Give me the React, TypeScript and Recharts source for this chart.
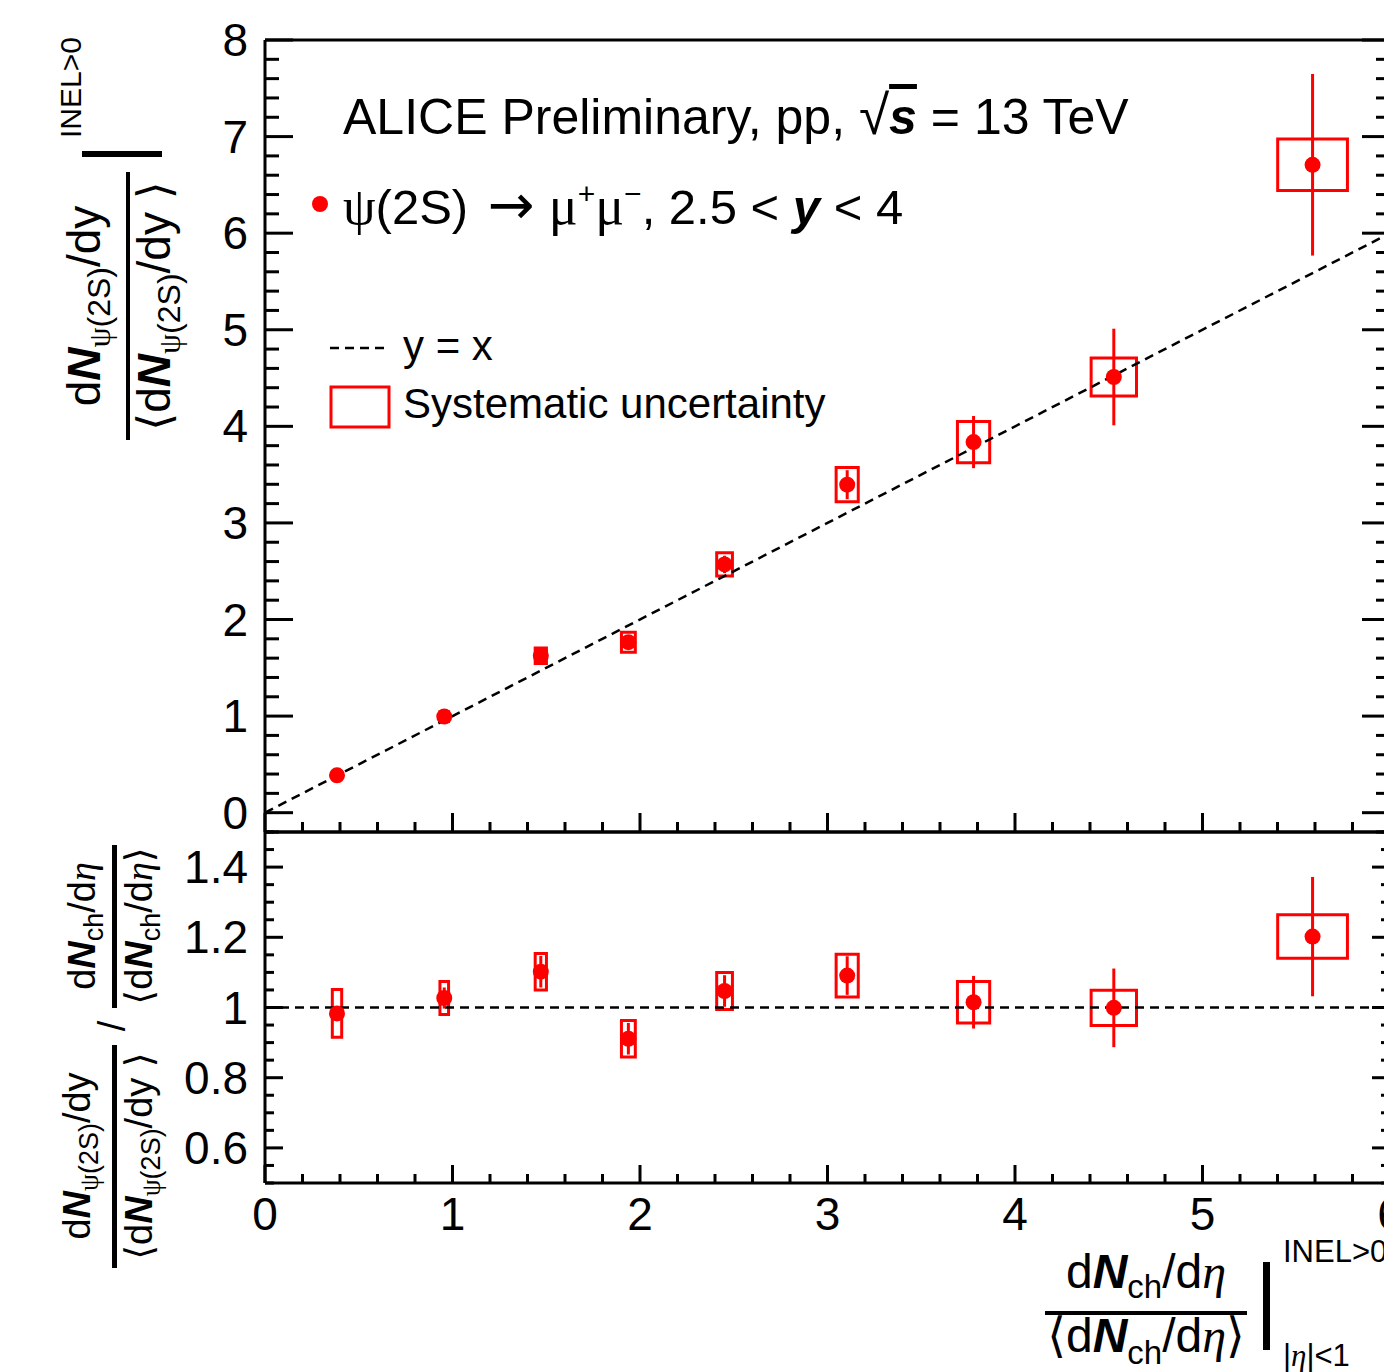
import React from 'react';
import { ComposedChart, Scatter, ErrorBar, XAxis, YAxis, ReferenceArea, ReferenceLine } from 'recharts';

// self-normalised charged-particle multiplicity, bin centres and box half-widths
const multX = [0.384, 0.956, 1.471, 1.938, 2.451, 3.105, 3.779, 4.527, 5.587];
const multSys = [0.025, 0.023, 0.03, 0.037, 0.042, 0.059, 0.086, 0.121, 0.186];

// self-normalised psi(2S) yield
const yieldVal = [0.387, 0.995, 1.624, 1.765, 2.57, 3.396, 3.837, 4.511, 6.708];
const yieldStat = [0.02, 0.03, 0.04, 0.06, 0.09, 0.15, 0.27, 0.5, 0.94];
const yieldSys = [0.03, 0.05, 0.08, 0.104, 0.12, 0.178, 0.214, 0.197, 0.267];

// ratio yield / multiplicity
const ratioVal = [0.983, 1.027, 1.102, 0.911, 1.047, 1.091, 1.015, 0.999, 1.202];
const ratioStat = [0.02, 0.03, 0.045, 0.045, 0.045, 0.055, 0.075, 0.112, 0.17];
const ratioSys = [0.068, 0.047, 0.052, 0.052, 0.053, 0.061, 0.059, 0.05, 0.062];

// axis ticks and labels
const xMajor = [0, 1, 2, 3, 4, 5, 6];
const xLabels = ['0', '1', '2', '3', '4', '5', '6'];
const yTopMajor = [0, 1, 2, 3, 4, 5, 6, 7, 8];
const yTopLabels = ['0', '1', '2', '3', '4', '5', '6', '7', '8'];
const yBotMajor = [0.6, 0.8, 1, 1.2, 1.4];
const yBotLabels = ['0.6', '0.8', '1', '1.2', '1.4'];

const steps = (from: number, to: number, step: number) => {
  const out: number[] = [];
  const n = Math.round((to - from) / step);
  for (let i = 0; i <= n; i++) out.push(+(from + i * step).toFixed(4));
  return out;
};
const xTicks = steps(0, 6, 0.2);
const yTopTicks = steps(-0.2, 8, 0.2);
const yBotTicks = steps(0.5, 1.5, 0.05);

const topData = multX.map((x, i) => ({ x, y: yieldVal[i], ey: yieldStat[i] }));
const botData = multX.map((x, i) => ({ x, y: ratioVal[i], ey: ratioStat[i] }));

const RED = '#ff0000';
const FONT = '"Liberation Sans", Arial, Helvetica, sans-serif';
const SERIF = '"Liberation Serif", "DejaVu Serif", serif';
const AX = { stroke: '#000', strokeWidth: 3 };

const labelOf = (majors: number[], labels: string[], v: number) => {
  const i = majors.findIndex((m) => Math.abs(m - v) < 1e-6);
  return i < 0 ? null : labels[i];
};

type Side = 'top' | 'bottom' | 'left' | 'right';
const tickFn = (side: Side, majors: number[], big: number, small: number, labels?: string[]) => (props: any) => {
  const { x, y, payload } = props;
  const isMajor = labelOf(majors, majors.map(String), payload.value) !== null;
  const len = isMajor ? big : small;
  let x2 = x;
  let y2 = y;
  if (side === 'bottom') y2 = y - len;
  else if (side === 'top') y2 = y + len;
  else if (side === 'left') x2 = x + len;
  else x2 = x - len;
  const text = labels ? labelOf(majors, labels, payload.value) : null;
  return (
    <g>
      <line x1={x} y1={y} x2={x2} y2={y2} stroke="#000" strokeWidth={3} />
      {text !== null && side === 'left' && (
        <text x={x - 17} y={y + 16} textAnchor="end" fontSize={46} fontFamily={FONT} fill="#000">{text}</text>
      )}
      {text !== null && side === 'bottom' && (
        <text x={x} y={y + 47} textAnchor="middle" fontSize={46} fontFamily={FONT} fill="#000">{text}</text>
      )}
    </g>
  );
};

const dot = (p: any) => <circle cx={p.cx} cy={p.cy} r={8} fill={RED} />;

const axisCommon = { type: 'number' as const, interval: 0 as const, tickSize: 0, tickMargin: 0, tickLine: false, axisLine: AX, allowDataOverflow: true };

const Overlay = () => (
  <svg width={1384} height={1372} style={{ position: 'absolute', left: 0, top: 0, pointerEvents: 'none' }} fontFamily={FONT}>
    {/* header */}
    <text x={343} y={134} fontSize={50} fill="#000">
      ALICE Preliminary, pp, <tspan fontSize={55}>√</tspan>
      <tspan fontWeight="bold" fontStyle="italic" textDecoration="overline">s</tspan> = 13 TeV
    </text>
    <circle cx={320} cy={204} r={8} fill={RED} />
    <text x={343} y={224} fontSize={49} fill="#000">
      <tspan fontFamily={SERIF} fontSize={52}>ψ</tspan>(2S) <tspan fontFamily="DejaVu Sans" fontSize={56} dx={6}>→</tspan>
      <tspan fontFamily={SERIF} fontSize={54} dx={14}>μ</tspan>
      <tspan fontSize={30} dy={-20}>+</tspan>
      <tspan fontFamily={SERIF} fontSize={54} dy={20}>μ</tspan>
      <tspan fontSize={30} dy={-20}>−</tspan>
      <tspan dy={20}>, 2.5 &lt; </tspan>
      <tspan fontWeight="bold" fontStyle="italic">y</tspan> &lt; 4
    </text>

    {/* legend */}
    <line x1={330} y1={348} x2={390} y2={348} stroke="#000" strokeWidth={2.5} strokeDasharray="9 6" />
    <text x={403} y={360} fontSize={42} fill="#000">y = x</text>
    <rect x={331} y={387} width={58} height={40} fill="none" stroke={RED} strokeWidth={3} />
    <text x={403} y={418} fontSize={42} fill="#000">Systematic uncertainty</text>

    {/* top y title */}
    <g transform="translate(100,306) rotate(-90)">
      <text textAnchor="middle" fontSize={46} fill="#000">
        d<tspan fontWeight="bold" fontStyle="italic">N</tspan>
        <tspan fontSize={32} dy={10}><tspan fontFamily={SERIF}>ψ</tspan>(2S)</tspan>
        <tspan dy={-10}>/dy</tspan>
      </text>
    </g>
    <rect x={126} y={172} width={4} height={268} fill="#000" />
    <g transform="translate(170,306) rotate(-90)">
      <text textAnchor="middle" fontSize={46} fill="#000">
        <tspan fontFamily="DejaVu Sans">⟨</tspan>d<tspan fontWeight="bold" fontStyle="italic">N</tspan>
        <tspan fontSize={32} dy={10}><tspan fontFamily={SERIF}>ψ</tspan>(2S)</tspan>
        <tspan dy={-10}>/dy </tspan>
        <tspan fontFamily="DejaVu Sans">⟩</tspan>
      </text>
    </g>
    <rect x={82} y={151} width={80} height={6} fill="#000" />
    <g transform="translate(81,138) rotate(-90)">
      <text fontSize={30} fill="#000">INEL&gt;0</text>
    </g>

    {/* bottom y title */}
    <g transform="translate(95,926) rotate(-90)">
      <text textAnchor="middle" fontSize={38} fill="#000">
        d<tspan fontWeight="bold" fontStyle="italic">N</tspan>
        <tspan fontSize={27} dy={8}>ch</tspan>
        <tspan dy={-8}>/d</tspan>
        <tspan fontFamily={SERIF} fontStyle="italic">η</tspan>
      </text>
    </g>
    <rect x={112} y={845} width={5} height={163} fill="#000" />
    <g transform="translate(152,926) rotate(-90)">
      <text textAnchor="middle" fontSize={38} fill="#000">
        <tspan fontFamily="DejaVu Sans">⟨</tspan>d<tspan fontWeight="bold" fontStyle="italic">N</tspan>
        <tspan fontSize={27} dy={8}>ch</tspan>
        <tspan dy={-8}>/d</tspan>
        <tspan fontFamily={SERIF} fontStyle="italic">η</tspan>
        <tspan fontFamily="DejaVu Sans">⟩</tspan>
      </text>
    </g>
    <g transform="translate(125,1026) rotate(-90)">
      <text textAnchor="middle" fontSize={38} fill="#000">/</text>
    </g>
    <g transform="translate(90,1156) rotate(-90)">
      <text textAnchor="middle" fontSize={38} fill="#000">
        d<tspan fontWeight="bold" fontStyle="italic">N</tspan>
        <tspan fontSize={27} dy={8}><tspan fontFamily={SERIF}>ψ</tspan>(2S)</tspan>
        <tspan dy={-8}>/dy</tspan>
      </text>
    </g>
    <rect x={112} y={1045} width={5} height={223} fill="#000" />
    <g transform="translate(152,1156) rotate(-90)">
      <text textAnchor="middle" fontSize={38} fill="#000">
        <tspan fontFamily="DejaVu Sans">⟨</tspan>d<tspan fontWeight="bold" fontStyle="italic">N</tspan>
        <tspan fontSize={27} dy={8}><tspan fontFamily={SERIF}>ψ</tspan>(2S)</tspan>
        <tspan dy={-8}>/dy </tspan>
        <tspan fontFamily="DejaVu Sans">⟩</tspan>
      </text>
    </g>

    {/* x title */}
    <text x={1146} y={1288} textAnchor="middle" fontSize={48} fill="#000">
      d<tspan fontWeight="bold" fontStyle="italic">N</tspan>
      <tspan fontSize={33} dy={10}>ch</tspan>
      <tspan dy={-10}>/d</tspan>
      <tspan fontFamily={SERIF} fontStyle="italic">η</tspan>
    </text>
    <rect x={1045} y={1311} width={202} height={4} fill="#000" />
    <text x={1146} y={1352} textAnchor="middle" fontSize={48} fill="#000">
      <tspan fontFamily="DejaVu Sans">⟨</tspan>d<tspan fontWeight="bold" fontStyle="italic">N</tspan>
      <tspan fontSize={33} dy={12}>ch</tspan>
      <tspan dy={-12}>/d</tspan>
      <tspan fontFamily={SERIF} fontStyle="italic">η</tspan>
      <tspan fontFamily="DejaVu Sans">⟩</tspan>
    </text>
    <rect x={1263} y={1262} width={7} height={88} fill="#000" />
    <text x={1283} y={1262} fontSize={31} fill="#000">INEL&gt;0</text>
    <text x={1283} y={1366} fontSize={31} fill="#000">
      |<tspan fontFamily={SERIF} fontStyle="italic">η</tspan>|&lt;1
    </text>
  </svg>
);

const App = () => (
  <div style={{ position: 'fixed', left: 0, top: 0, width: 1384, height: 1372, overflow: 'hidden', background: '#fff' }}>
    {/* upper panel: yield vs multiplicity */}
    <div style={{ position: 'absolute', left: 0, top: 0 }}>
      <ComposedChart width={1420} height={880} margin={{ top: 39, right: 29, bottom: 47, left: 264 }}>
        <XAxis xAxisId="b" dataKey="x" domain={[0, 6]} ticks={xTicks} height={1} tick={tickFn('bottom', xMajor, 19, 10)} {...axisCommon} />
        <XAxis xAxisId="t" orientation="top" domain={[0, 6]} ticks={xTicks} height={1} tick={tickFn('top', xMajor, 19, 10)} {...axisCommon} />
        <YAxis yAxisId="l" dataKey="y" domain={[-0.2, 8]} ticks={yTopTicks} width={1} tick={tickFn('left', yTopMajor, 28, 14, yTopLabels)} {...axisCommon} />
        <YAxis yAxisId="r" orientation="right" domain={[-0.2, 8]} ticks={yTopTicks} width={1} tick={tickFn('right', yTopMajor, 28, 14)} {...axisCommon} />
        <ReferenceLine xAxisId="b" yAxisId="l" segment={[{ x: 0, y: 0 }, { x: 6, y: 6 }]} stroke="#000" strokeWidth={2.5} strokeDasharray="9 6" ifOverflow="visible" />
        {topData.map((d, i) => (
          <ReferenceArea key={'ts' + i} xAxisId="b" yAxisId="l" x1={d.x - multSys[i]} x2={d.x + multSys[i]} y1={d.y - yieldSys[i]} y2={d.y + yieldSys[i]} fill="none" stroke={RED} strokeWidth={3} ifOverflow="visible" />
        ))}
        <Scatter xAxisId="b" yAxisId="l" data={topData} dataKey="y" shape={dot} isAnimationActive={false}>
          <ErrorBar dataKey="ey" direction="y" width={0} stroke={RED} strokeWidth={3} isAnimationActive={false} />
        </Scatter>
      </ComposedChart>
    </div>

    {/* lower panel: ratio */}
    <div style={{ position: 'absolute', left: 0, top: 800 }}>
      <ComposedChart width={1420} height={572} margin={{ top: 31, right: 29, bottom: 188, left: 264 }}>
        <XAxis xAxisId="b" dataKey="x" domain={[0, 6]} ticks={xTicks} height={1} tick={tickFn('bottom', xMajor, 18, 9, xLabels)} {...axisCommon} />
        <XAxis xAxisId="t" orientation="top" domain={[0, 6]} ticks={xTicks} height={1} tick={tickFn('top', xMajor, 13, 7)} {...axisCommon} />
        <YAxis yAxisId="l" dataKey="y" domain={[0.5, 1.5]} ticks={yBotTicks} width={1} tick={tickFn('left', yBotMajor, 18, 9, yBotLabels)} {...axisCommon} />
        <YAxis yAxisId="r" orientation="right" domain={[0.5, 1.5]} ticks={yBotTicks} width={1} tick={tickFn('right', yBotMajor, 18, 9)} {...axisCommon} />
        <ReferenceLine xAxisId="b" yAxisId="l" y={1} stroke="#000" strokeWidth={2.5} strokeDasharray="9 6" />
        {botData.map((d, i) => (
          <ReferenceArea key={'bs' + i} xAxisId="b" yAxisId="l" x1={d.x - multSys[i]} x2={d.x + multSys[i]} y1={d.y - ratioSys[i]} y2={d.y + ratioSys[i]} fill="none" stroke={RED} strokeWidth={3} ifOverflow="visible" />
        ))}
        <Scatter xAxisId="b" yAxisId="l" data={botData} dataKey="y" shape={dot} isAnimationActive={false}>
          <ErrorBar dataKey="ey" direction="y" width={0} stroke={RED} strokeWidth={3} isAnimationActive={false} />
        </Scatter>
      </ComposedChart>
    </div>

    <Overlay />
  </div>
);

export default App;
